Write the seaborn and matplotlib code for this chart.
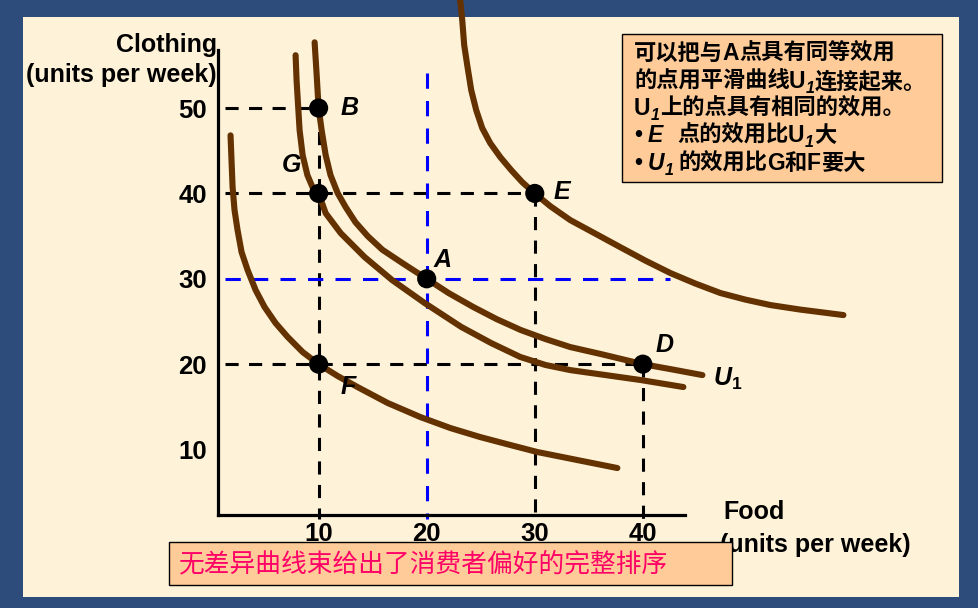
import numpy as np
import pandas as pd
import matplotlib
matplotlib.use("Agg")
import matplotlib.pyplot as plt
import seaborn as sns
from matplotlib.patches import Rectangle

# ---------------- data ----------------
curve_E_x = [23.10, 23.29, 23.47, 23.75, 24.12, 24.58, 25.14, 25.88, 26.81, 27.82, 28.84,
             30.0, 31.44, 33.29, 35.6, 37.9, 40.23, 42.55, 44.86, 47.18, 49.49, 51.81,
             54.58, 58.56]
curve_E_y = [62.63, 60.29, 57.37, 55.03, 52.10, 49.76, 47.65, 45.89, 44.25, 42.73, 41.32,
             40.0, 38.5, 36.87, 35.29, 33.71, 32.13, 30.67, 29.44, 28.33, 27.56, 26.92,
             26.39, 25.75]

curve_U1_x = [9.63, 9.82, 10.0, 10.28, 10.65, 11.1, 11.76, 12.5, 13.4, 14.54, 15.9, 17.8,
              20.0, 22.04, 24.3, 26.45, 28.7, 30.97, 33.29, 36.06, 40.0, 42.55, 45.51]
curve_U1_y = [57.7, 53.85, 50.0, 47.41, 44.5, 42.15, 40.04, 38.4, 36.64, 35.0, 33.4, 31.8,
              30.0, 28.32, 26.7, 25.29, 24.0, 22.95, 22.0, 21.2, 20.0, 19.42, 18.72]

curve_G_x = [7.87, 7.96, 8.24, 8.52, 8.96, 9.43, 10.0, 10.65, 12.04, 14.26, 16.8, 19.8,
             23.2, 25.95, 28.66, 31.0, 33.3, 36.5, 39.8, 43.75]
curve_G_y = [56.19, 53.26, 47.41, 44.5, 42.15, 40.75, 40.0, 37.69, 35.35, 32.54, 29.85,
             27.17, 24.36, 22.48, 20.84, 19.9, 19.3, 18.73, 18.14, 17.32]

curve_F_x = [1.85, 1.94, 2.04, 2.22, 2.50, 2.87, 3.43, 4.17, 5.0, 6.02, 7.14, 8.52, 10.0,
             11.76, 13.6, 16.39, 19.4, 22.18, 24.95, 27.73, 30.23, 33.93, 37.64]
curve_F_y = [46.8, 43.9, 40.75, 38.04, 35.7, 33.13, 31.02, 28.68, 26.69, 24.81, 23.18,
             21.42, 20.0, 18.61, 17.32, 15.45, 13.81, 12.52, 11.46, 10.53, 9.71, 8.77, 7.83]

point_names = ["B", "G", "A", "E", "D", "F"]
point_x = [10, 10, 20, 30, 40, 10]
point_y = [50, 40, 30, 40, 20, 20]

x_ticks = [10, 20, 30, 40]
y_ticks = [10, 20, 30, 40, 50]

# box text as runs: (text, style)  style: c=CJK, b=bold latin, i=bold italic, s=subscript
box_lines = [
    [("可以把与", "c"), ("A", "b"), ("点具有同等效用", "c")],
    [("的点用平滑曲线", "c"), ("U", "b"), ("1", "s"), ("连接起来。", "c")],
    [("U", "b"), ("1", "s"), ("上的点具有相同的效用。", "c")],
    [("•", "b"), (" ", "gap"), ("E", "i"), ("  ", "gap2"), ("点的效用比", "c"), ("U", "b"),
     ("1", "s"), ("大", "c")],
    [("•", "b"), (" ", "gap"), ("U", "i"), ("1", "s"), (" ", "gap"), ("的效用比", "c"),
     ("G", "b"), ("和", "c"), ("F", "b"), ("要大", "c")],
]
bottom_note = "无差异曲线束给出了消费者偏好的完整排序"

# ---------------- style ----------------
sns.set_style("white")
plt.rcParams["font.family"] = ["Liberation Sans", "Noto Sans CJK SC", "DejaVu Sans"]
plt.rcParams["text.color"] = "black"
plt.rcParams["xtick.color"] = "black"
plt.rcParams["ytick.color"] = "black"
plt.rcParams["mathtext.fontset"] = "custom"
plt.rcParams["mathtext.rm"] = "Liberation Sans:bold"
plt.rcParams["mathtext.bf"] = "Liberation Sans:bold"
plt.rcParams["mathtext.it"] = "Liberation Sans:italic:bold"

BORDER = "#2D4C7B"
CREAM = "#FEF2D9"
PEACH = "#FFCC99"
BROWN = "#633200"

W, H = 979, 608
fig = plt.figure(figsize=(W / 100, H / 100), dpi=100, facecolor=BORDER)
renderer = fig.canvas.get_renderer()


def fx(px):
    return px / W


def fy(py):
    return 1 - py / H


fig.add_artist(Rectangle((fx(23), fy(597)), fx(959) - fx(23), fy(17) - fy(597),
                         transform=fig.transFigure, facecolor=CREAM,
                         edgecolor="none", zorder=-10))

ax = fig.add_axes([fx(218), fy(515), fx(685) - fx(218), fy(50) - fy(515)])
ax.set_facecolor("none")
ax.set_xlim(0.69, 43.9)
ax.set_ylim(2.33, 56.8)

# guide lines
blk = dict(color="black", lw=2.2, linestyle=(0, (4.3, 3.4)), zorder=2, clip_on=False)
blu = dict(color="#0000FF", lw=2.2, linestyle=(0, (5.0, 4.0)), zorder=2, clip_on=False)
ax.plot([1.3, 10], [50, 50], **blk)
ax.plot([1.3, 30], [40, 40], **blk)
ax.plot([1.3, 40], [20, 20], **blk)
ax.plot([10, 10], [50, 1.9], **blk)
ax.plot([30, 30], [40, 1.9], **blk)
ax.plot([40, 40], [20, 1.9], **blk)
ax.plot([1.3, 42.5], [30, 30], **blu)
ax.plot([20, 20], [54.1, 1.9], **blu)

# curves
frames = []
for name, xs, ys in [("E", curve_E_x, curve_E_y), ("U1", curve_U1_x, curve_U1_y),
                     ("G", curve_G_x, curve_G_y), ("F", curve_F_x, curve_F_y)]:
    frames.append(pd.DataFrame({"curve": name, "x": xs, "y": ys}))
curves = pd.concat(frames, ignore_index=True)
n_before = len(ax.lines)
sns.lineplot(data=curves, x="x", y="y", units="curve", estimator=None, sort=False,
             color=BROWN, lw=4.4, ax=ax, legend=False)
for ln in ax.lines[n_before:]:
    ln.set_clip_on(False)
    ln.set_solid_capstyle("round")
    ln.set_solid_joinstyle("round")
    ln.set_zorder(3)

# points
pts = pd.DataFrame({"name": point_names, "x": point_x, "y": point_y})
sns.scatterplot(data=pts, x="x", y="y", s=190, color="black", edgecolor="none",
                ax=ax, zorder=5, legend=False)

lab = dict(fontsize=18, fontweight="bold", fontstyle="italic", va="center", ha="left",
           family="Liberation Sans", color="black")
label_pos = {"B": (12.05, 50.0), "E": (31.7, 40.2), "A": (20.6, 32.2),
             "D": (41.15, 22.2), "G": (6.6, 43.3), "F": (12.0, 17.3)}
for n in point_names:
    ax.text(*label_pos[n], n, **lab)
ax.text(46.5, 18.3, r"$U_{\mathit{1}}$", fontsize=18, va="center", ha="left",
        color="black")

# axes styling
ax.set_xticks(x_ticks)
ax.set_yticks(y_ticks)
ax.set_xticklabels([str(v) for v in x_ticks])
ax.set_yticklabels([str(v) for v in y_ticks])
ax.tick_params(length=0, labelsize=18.5, colors="black")
ax.tick_params(axis="x", pad=5)
ax.tick_params(axis="y", pad=8)
for t in ax.get_xticklabels() + ax.get_yticklabels():
    t.set_fontweight("bold")
for s in ["top", "right"]:
    ax.spines[s].set_visible(False)
for s in ["left", "bottom"]:
    ax.spines[s].set_color("black")
    ax.spines[s].set_linewidth(2.3)
ax.set_xlabel("")
ax.set_ylabel("")

# axis titles
tt = dict(fontsize=18, fontweight="bold", color="black", va="center")
fig.text(fx(217), fy(45), "Clothing", ha="right", **tt)
fig.text(fx(217), fy(75), "(units per week)", ha="right", **tt)
fig.text(fx(723), fy(512), "Food", ha="left", **tt)
fig.text(fx(720), fy(545), "(units per week)", ha="left", **tt)

# explanatory box
fig.add_artist(Rectangle((fx(622), fy(182)), fx(942) - fx(622), fy(34) - fy(182),
                         transform=fig.transFigure, facecolor=PEACH,
                         edgecolor="black", lw=1.0, zorder=4))

styles = {
    "c": dict(family=["Noto Sans CJK SC"], fontsize=16, fontweight="bold"),
    "b": dict(family=["Liberation Sans"], fontsize=16.5, fontweight="bold"),
    "i": dict(family=["Liberation Sans"], fontsize=16.5, fontweight="bold",
              fontstyle="italic"),
    "s": dict(family=["Liberation Sans"], fontsize=11.5, fontweight="bold",
              fontstyle="italic"),
}
gaps = {"gap": 5, "gap2": 14}

line_base = [60, 88, 115, 142, 170]
for runs, yb in zip(box_lines, line_base):
    x = 634.0
    for text, st in runs:
        if st in gaps:
            x += gaps[st]
            continue
        dy = 5 if st == "s" else 0
        t = fig.text(fx(x), fy(yb + dy), text, ha="left", va="baseline", color="black",
                     zorder=6, **styles[st])
        bb = t.get_window_extent(renderer)
        x += bb.width + (-1 if st == "c" else 0.5)

# bottom note
fig.add_artist(Rectangle((fx(169), fy(585)), fx(732) - fx(169), fy(542) - fy(585),
                         transform=fig.transFigure, facecolor=PEACH,
                         edgecolor="black", lw=1.0, zorder=4))
fig.text(fx(179), fy(564), bottom_note, fontsize=18.5, ha="left", va="center",
         color="#FF0066", family=["Noto Sans CJK SC"], zorder=6)

fig.savefig("out.png", dpi=100, facecolor=fig.get_facecolor())
